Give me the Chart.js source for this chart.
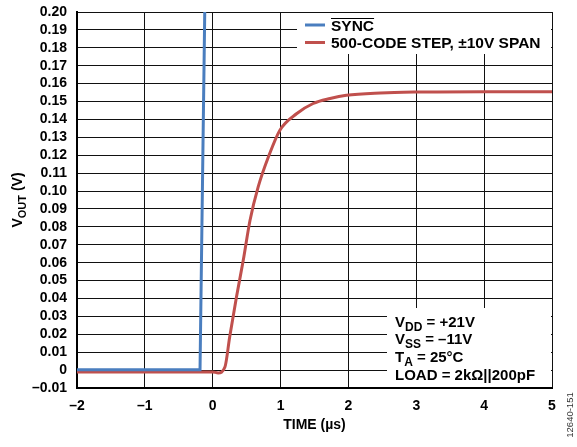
<!DOCTYPE html>
<html>
<head>
<meta charset="utf-8">
<script src="https://cdn.jsdelivr.net/npm/chart.js@4/dist/chart.umd.min.js"></script>
<style>
    html, body { margin: 0; padding: 0; background: #fff; }
    #wrap { width: 577px; height: 447px; position: relative; }
</style>
</head>
<body>
<div id="wrap"><canvas id="chart" width="577" height="447"></canvas></div>
<script>
// Data
const syncTime = [-2, -0.187, -0.114];
const syncVolt = [0.0002, 0.0002, 0.21];

const stepTime = [-2, 0.0, 0.08, 0.18, 0.25, 0.35, 0.45, 0.55, 0.67, 0.82, 0.99, 1.24, 1.48, 1.73, 1.97, 2.47, 3.0, 4.0, 5.0];
const stepVolt = [-0.001, -0.001, -0.0016, 0.0017, 0.0185, 0.0408, 0.0613, 0.0837, 0.1023, 0.119, 0.134, 0.1433, 0.1489, 0.1517, 0.1535, 0.1548, 0.1553, 0.1555, 0.1555];

const xTicks = [-2, -1, 0, 1, 2, 3, 4, 5];
const legendLabels = ['SYNC', '500-CODE STEP, \u00b110V SPAN'];
const FONT = '"Liberation Sans", Arial, sans-serif';
const BLUE = '#4a7ebf';
const RED = '#c0504d';

const fmtNeg = s => s.replace('-', '\u2013');

// Draw legend, conditions box, axis title and figure id
const overlay = {
    id: 'overlay',
    afterDraw(chart) {
        const ctx = chart.ctx;
        const a = chart.chartArea;
        ctx.save();

        // legend box
        ctx.fillStyle = '#fff';
        ctx.fillRect(297, a.top + 1, a.right - 298, 41);
        ctx.lineWidth = 3;
        ctx.strokeStyle = BLUE;
        ctx.beginPath(); ctx.moveTo(305, 25); ctx.lineTo(325, 25); ctx.stroke();
        ctx.strokeStyle = RED;
        ctx.beginPath(); ctx.moveTo(305, 42.5); ctx.lineTo(325, 42.5); ctx.stroke();
        ctx.fillStyle = '#000';
        ctx.font = 'bold 15.5px ' + FONT;
        ctx.textBaseline = 'alphabetic';
        ctx.textAlign = 'left';
        ctx.fillText(legendLabels[0], 331, 30.5);
        const w = ctx.measureText(legendLabels[0]).width;
        ctx.lineWidth = 1.2;
        ctx.strokeStyle = '#000';
        ctx.beginPath(); ctx.moveTo(331, 18.5); ctx.lineTo(331 + w, 18.5); ctx.stroke();
        ctx.fillText(legendLabels[1], 331, 48);

        // conditions box
        ctx.fillStyle = '#fff';
        ctx.fillRect(387, 308, a.right - 388, a.bottom - 309);
        ctx.fillStyle = '#000';
        const rows = [
            ['V', 'DD', ' = +21V', 327],
            ['V', 'SS', ' = \u201311V', 344],
            ['T', 'A', ' = 25\u00b0C', 362],
        ];
        rows.forEach(r => {
            let x = 395;
            ctx.font = 'bold 15px ' + FONT;
            ctx.fillText(r[0], x, r[3]);
            x += ctx.measureText(r[0]).width;
            ctx.font = 'bold 12px ' + FONT;
            ctx.fillText(r[1], x, r[3] + 3.5);
            x += ctx.measureText(r[1]).width;
            ctx.font = 'bold 15px ' + FONT;
            ctx.fillText(r[2], x, r[3]);
        });
        ctx.font = 'bold 15px ' + FONT;
        ctx.fillText('LOAD = 2k\u03a9||200pF', 395, 379.5);

        // y axis title with subscript
        ctx.translate(22, (a.top + a.bottom) / 2);
        ctx.rotate(-Math.PI / 2);
        const parts = [['V', 14, 0], ['OUT', 11, 3.5], [' (V)', 14, 0]];
        let total = 0;
        parts.forEach(p => { ctx.font = 'bold ' + p[1] + 'px ' + FONT; total += ctx.measureText(p[0]).width; });
        let x = -total / 2;
        parts.forEach(p => {
            ctx.font = 'bold ' + p[1] + 'px ' + FONT;
            ctx.fillText(p[0], x, p[2]);
            x += ctx.measureText(p[0]).width;
        });
        ctx.restore();

        // figure id
        ctx.save();
        ctx.translate(573, 415);
        ctx.rotate(-Math.PI / 2);
        ctx.font = '9.5px ' + FONT;
        ctx.fillStyle = '#333';
        ctx.textAlign = 'center';
        ctx.fillText('12640-151', 0, 0);
        ctx.restore();
    }
};

new Chart(document.getElementById('chart'), {
    type: 'line',
    data: {
        datasets: [{
            label: legendLabels[0],
            data: syncTime.map((t, i) => ({ x: t, y: syncVolt[i] })),
            borderColor: BLUE,
            borderWidth: 3,
            pointRadius: 0,
            tension: 0
        }, {
            label: legendLabels[1],
            data: stepTime.map((t, i) => ({ x: t, y: stepVolt[i] })),
            borderColor: RED,
            borderWidth: 3,
            pointRadius: 0,
            cubicInterpolationMode: 'monotone'
        }]
    },
    options: {
        responsive: false,
        animation: false,
        layout: { padding: { top: 12, right: 25, left: 0, bottom: 0 } },
        plugins: { legend: { display: false }, tooltip: { enabled: false } },
        scales: {
            x: {
                type: 'linear',
                min: -2, max: 5,
                afterFit: s => { s.height = 59; s.paddingLeft = 0; s.paddingRight = 0; },
                afterBuildTicks: s => { s.ticks = xTicks.map(v => ({ value: v })); },
                grid: { color: '#111', lineWidth: 1, drawTicks: false },
                border: { color: '#000', width: 2 },
                ticks: {
                    autoSkip: false,
                    maxRotation: 0,
                    padding: 10,
                    color: '#000',
                    font: { family: FONT, size: 14, weight: 'bold' },
                    callback: v => fmtNeg(String(v))
                },
                title: {
                    display: true,
                    text: 'TIME (\u00b5s)',
                    color: '#000',
                    font: { family: FONT, size: 14, weight: 'bold' },
                    padding: { top: 0, bottom: 13 }
                }
            },
            y: {
                min: -0.01, max: 0.2,
                afterFit: s => { s.width = 77; s.paddingTop = 0; s.paddingBottom = 0; },
                grid: { color: '#111', lineWidth: 1, drawTicks: false },
                border: { color: '#000', width: 2 },
                ticks: {
                    autoSkip: false,
                    stepSize: 0.01,
                    padding: 10,
                    color: '#000',
                    font: { family: FONT, size: 14, weight: 'bold' },
                    callback: v => {
                        const r = Math.round(v * 100) / 100;
                        return r === 0 ? '0' : fmtNeg(r.toFixed(2));
                    }
                }
            }
        }
    },
    plugins: [overlay]
});
</script>
</body>
</html>
